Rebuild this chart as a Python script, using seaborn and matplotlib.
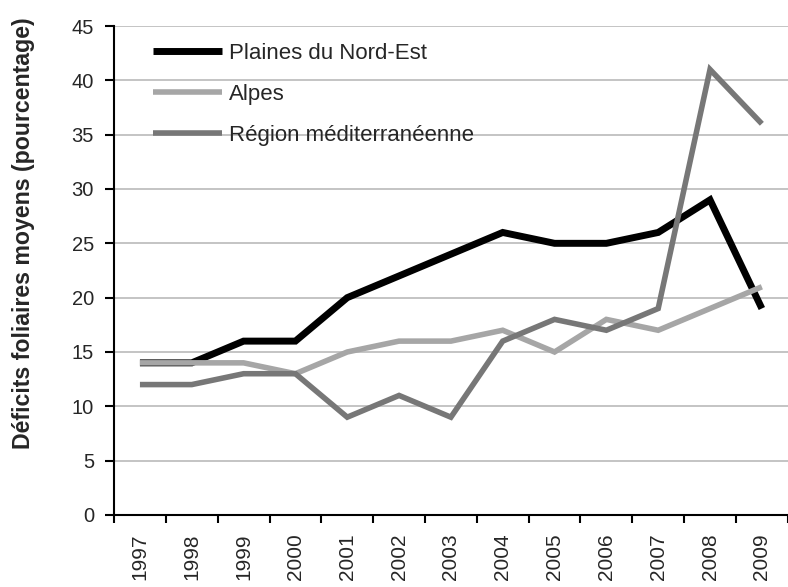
import matplotlib
matplotlib.use("Agg")
import matplotlib.pyplot as plt
import seaborn as sns
import pandas as pd
import numpy as np

years = ["1997", "1998", "1999", "2000", "2001", "2002", "2003",
         "2004", "2005", "2006", "2007", "2008", "2009"]
plaines = [14, 14, 16, 16, 20, 22, 24, 26, 25, 25, 26, 29, 19]
alpes = [14, 14, 14, 13, 15, 16, 16, 17, 15, 18, 17, 19, 21]
medit = [12, 12, 13, 13, 9, 11, 9, 16, 18, 17, 19, 41, 36]
series_names = ["Plaines du Nord-Est", "Alpes", "Région méditerranéenne"]
colors = ["#000000", "#a6a6a6", "#777777"]
widths = [5.0, 4.0, 4.0]

sns.set_style("white")
plt.rcParams['font.family'] = ['Liberation Sans', 'DejaVu Sans']

rows = []
for name, vals in zip(series_names, [plaines, alpes, medit]):
    for i, v in enumerate(vals):
        rows.append({"pos": i, "val": v, "serie": name})
df = pd.DataFrame(rows)

fig = plt.figure(figsize=(7.88, 5.87), dpi=100)
ax = fig.add_axes([0.1447, 0.1227, 0.855, 0.833])

for name, col, lw in zip(series_names, colors, widths):
    sub = df[df["serie"] == name]
    sns.lineplot(data=sub, x="pos", y="val", ax=ax, color=col, linewidth=lw,
                 label=name, solid_joinstyle="miter", solid_capstyle="butt")

ax.set_xlim(-0.5, len(years) - 0.5)
ax.set_ylim(0, 45)
ax.set_yticks(np.arange(0, 46, 5))
ax.yaxis.grid(True, color="#c4c4c4", linewidth=1.4)
ax.set_axisbelow(True)

ax.set_xticks(range(len(years)))
ax.set_xticklabels(years, rotation=90, fontsize=15)
ax.set_xticks(np.arange(-0.5, len(years), 1.0), minor=True)
ax.tick_params(axis="x", which="major", bottom=True, length=0, pad=13)
ax.tick_params(axis="x", which="minor", bottom=True, length=6, width=1.5, color="black", direction="out")
ax.tick_params(axis="y", left=True, length=6.5, width=1.5, color="black", direction="out", labelsize=14.5, pad=8)

for s in ["top", "right"]:
    ax.spines[s].set_visible(False)
for s in ["left", "bottom"]:
    ax.spines[s].set_color("black")
    ax.spines[s].set_linewidth(1.5)

ax.set_xlabel("")
ax.set_ylabel("Déficits foliaires moyens (pourcentage)", fontsize=16.7, fontweight="bold")
ax.yaxis.set_label_coords(-0.118, 0.577)

leg = ax.legend(loc="upper left", bbox_to_anchor=(0.058, 0.965), frameon=False,
                fontsize=16, handlelength=3.1, handletextpad=0.3, labelspacing=0.9,
                borderaxespad=0, borderpad=0)

fig.savefig("out.png", dpi=100)
